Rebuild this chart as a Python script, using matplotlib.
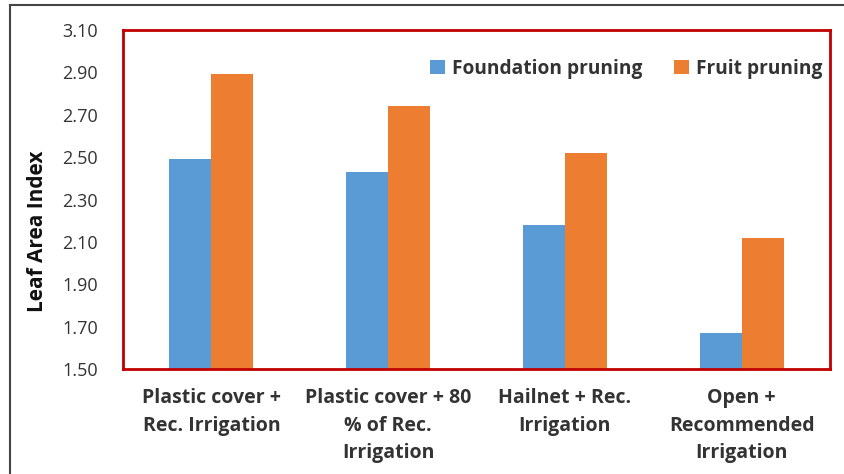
import matplotlib
matplotlib.use("Agg")
import matplotlib.pyplot as plt
import numpy as np
from matplotlib.lines import Line2D

categories = ["Plastic cover +\nRec. Irrigation", "Plastic cover + 80\n% of Rec.\nIrrigation",
              "Hailnet + Rec.\nIrrigation", "Open +\nRecommended\nIrrigation"]
foundation = [2.49, 2.43, 2.18, 1.67]
fruit = [2.89, 2.74, 2.52, 2.12]
series_names = ["Foundation pruning", "Fruit pruning"]
yticks = [1.50, 1.70, 1.90, 2.10, 2.30, 2.50, 2.70, 2.90, 3.10]

plt.rcParams['font.family'] = ['Open Sans', 'DejaVu Sans']

fig = plt.figure(figsize=(8.44, 4.74), dpi=100)
ax = fig.add_axes([123/844, 1-369/474, (830-123)/844, (369-30)/474])

x = np.arange(len(categories))
w = 0.238
ax.bar(x - w/2, [v - 1.5 for v in foundation], w, bottom=1.5, color="#5B9BD5", label=series_names[0])
ax.bar(x + w/2, [v - 1.5 for v in fruit], w, bottom=1.5, color="#ED7D31", label=series_names[1])

ax.set_xlim(-0.5, len(categories) - 0.5)
ax.set_ylim(1.5, 3.1)
ax.set_yticks(yticks)
ax.set_yticklabels([f"{t:.2f}" for t in yticks], fontsize=13, color="#333333")
ax.set_xticks(x)
ax.set_xticklabels(categories, fontsize=14, fontweight="bold", color="#333333", linespacing=1.5)
ax.tick_params(axis="both", length=0)
ax.tick_params(axis="y", pad=18)
ax.tick_params(axis="x", pad=14)
for s in ax.spines.values():
    s.set_color("#C00000")
    s.set_linewidth(2)

ax.set_ylabel("Leaf Area Index", fontsize=15, fontweight="bold", color="#111111")
ax.yaxis.set_label_coords(-0.106, 0.405)

leg = ax.legend(loc="upper right", bbox_to_anchor=(1.013, 0.965), ncol=2, frameon=False,
                prop={"weight": "bold", "size": 13.8}, handlelength=0.75, handleheight=0.75,
                handletextpad=0.35, columnspacing=1.7)
for t in leg.get_texts():
    t.set_color("#333333")

# outer frame (left and top visible)
fig.add_artist(Line2D([10/844, 10/844], [0, 1-5/474], transform=fig.transFigure, color="#444444", lw=1.5))
fig.add_artist(Line2D([10/844, 1], [1-5/474, 1-5/474], transform=fig.transFigure, color="#444444", lw=1.5))

fig.savefig("out.png", dpi=100)
